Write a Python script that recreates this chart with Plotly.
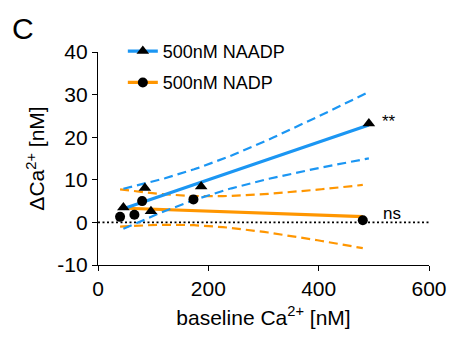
import numpy as np
import plotly.graph_objects as go

# ---- data ----
naadp_x = [46, 85, 96, 187, 491]
naadp_y = [3.5, 8.1, 2.6, 8.4, 23.2]
nadp_x = [40, 66, 80, 173, 480]
nadp_y = [1.3, 1.8, 5.0, 5.4, 0.5]
series_names = ["500nM NAADP", "500nM NADP"]
sig_labels = ["**", "ns"]
x_ticks = [0, 200, 400, 600]
y_ticks = [-10, 0, 10, 20, 30, 40]
y_tick_text = ["-10", "0", "10", "20", "30", "40"]

BLUE = "#1b96f3"
ORANGE = "#ff9600"
T_975_DF3 = 3.182446  # Student t, 95% two-sided, df = n-2 = 3


def fit_with_ci(xs, ys, n_pts=60):
    x = np.asarray(xs, float)
    y = np.asarray(ys, float)
    slope, icpt = np.polyfit(x, y, 1)
    n = len(x)
    resid = y - (slope * x + icpt)
    s = np.sqrt(np.sum(resid ** 2) / (n - 2))
    sxx = np.sum((x - x.mean()) ** 2)
    xg = np.linspace(x.min(), x.max(), n_pts)
    yg = slope * xg + icpt
    half = T_975_DF3 * s * np.sqrt(1 / n + (xg - x.mean()) ** 2 / sxx)
    return xg, yg, yg - half, yg + half


fig = go.Figure()

# zero reference line
fig.add_trace(go.Scatter(x=[x_ticks[0], x_ticks[-1]], y=[0, 0], mode="lines",
                         line=dict(color="black", width=1.6, dash="2px,2.5px"),
                         showlegend=False, hoverinfo="skip"))

for xs, ys, col in [(nadp_x, nadp_y, ORANGE), (naadp_x, naadp_y, BLUE)]:
    xg, yg, lo, hi = fit_with_ci(xs, ys)
    for band in (lo, hi):
        fig.add_trace(go.Scatter(x=xg, y=band, mode="lines",
                                 line=dict(color=col, width=2.2, dash="9px,5px"),
                                 showlegend=False, hoverinfo="skip"))
    fig.add_trace(go.Scatter(x=xg, y=yg, mode="lines",
                             line=dict(color=col, width=3.2),
                             showlegend=False, hoverinfo="skip"))

# data points on top
fig.add_trace(go.Scatter(x=nadp_x, y=nadp_y, mode="markers",
                         marker=dict(symbol="circle", size=10, color="black"),
                         showlegend=False))
fig.add_trace(go.Scatter(x=naadp_x, y=naadp_y, mode="markers",
                         marker=dict(symbol="triangle-up", size=11, color="black"),
                         showlegend=False))

# legend entries (line + marker)
fig.add_trace(go.Scatter(x=[None], y=[None], mode="lines+markers", name=series_names[0],
                         line=dict(color=BLUE, width=3.2),
                         marker=dict(symbol="triangle-up", size=11, color="black"),
                         legendgroup="a"))
fig.add_trace(go.Scatter(x=[None], y=[None], mode="lines+markers", name=series_names[1],
                         line=dict(color=ORANGE, width=3.2),
                         marker=dict(symbol="circle", size=10, color="black"),
                         legendgroup="b"))

fig.add_annotation(x=527, y=naadp_y[-1] + 0.6, text=sig_labels[0], showarrow=False,
                   font=dict(size=17, color="black"), xanchor="center", yanchor="middle")
fig.add_annotation(x=533, y=2.2, text=sig_labels[1], showarrow=False,
                   font=dict(size=17, color="black"), xanchor="center", yanchor="middle")
fig.add_annotation(xref="paper", yref="paper", x=-0.227, y=1.111, text="C", showarrow=False,
                   font=dict(size=30, color="black"), xanchor="center", yanchor="middle")

axis_common = dict(showline=True, linecolor="black", linewidth=1.3, ticks="outside",
                   ticklen=5, tickwidth=1.3, tickcolor="black", showgrid=False,
                   zeroline=False, tickfont=dict(size=21, color="black"),
                   ticklabeloverflow="allow")

# the page body keeps its default 8px margin; the figure is sized/offset for it
fig.update_layout(
    width=451, height=329,
    margin=dict(l=90, r=22, t=44, b=60),
    paper_bgcolor="white", plot_bgcolor="white",
    font=dict(family="Liberation Sans, Arial, sans-serif", color="black", size=21),
    xaxis=dict(range=[0, 600], tickvals=x_ticks,
               title=dict(text="baseline Ca<sup>2+</sup> [nM]", font=dict(size=21), standoff=10),
               **axis_common),
    yaxis=dict(range=[-10, 40], tickvals=y_ticks, ticktext=y_tick_text,
               title=dict(text="ΔCa<sup>2+</sup> [nM]", font=dict(size=21), standoff=6),
               **axis_common),
    legend=dict(x=0.075, y=1.09, xanchor="left", yanchor="top", bgcolor="rgba(0,0,0,0)",
                font=dict(size=18), tracegroupgap=5, traceorder="grouped"),
    showlegend=True,
)

fig.write_html("out.html")
